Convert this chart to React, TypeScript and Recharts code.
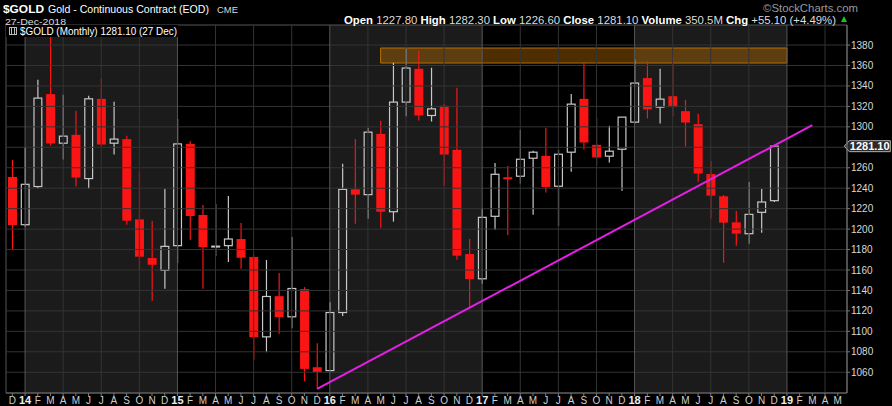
import React from 'react';
import { ComposedChart, Bar, XAxis, YAxis, ReferenceArea, ReferenceLine } from 'recharts';

// Months: index 0 = Dec 2013 ... index 65 = May 2019
const monthLabels = [
  'D',
  '14', 'F', 'M', 'A', 'M', 'J', 'J', 'A', 'S', 'O', 'N', 'D',
  '15', 'F', 'M', 'A', 'M', 'J', 'J', 'A', 'S', 'O', 'N', 'D',
  '16', 'F', 'M', 'A', 'M', 'J', 'J', 'A', 'S', 'O', 'N', 'D',
  '17', 'F', 'M', 'A', 'M', 'J', 'J', 'A', 'S', 'O', 'N', 'D',
  '18', 'F', 'M', 'A', 'M', 'J', 'J', 'A', 'S', 'O', 'N', 'D',
  '19', 'F', 'M', 'A', 'M',
];
const monthIndex = monthLabels.map((_, i) => i);

// Monthly OHLC, Dec 2013 .. Dec 2018
const opens = [
  1251.0,
  1204.3, 1241.6, 1332.0, 1284.0, 1292.2, 1249.4, 1327.4, 1284.0, 1288.0, 1209.5, 1171.7, 1159.6,
  1183.8, 1283.3, 1213.8, 1182.5, 1183.8, 1190.3, 1172.7, 1094.6, 1134.4, 1114.2, 1141.3, 1064.9,
  1061.6, 1118.4, 1238.9, 1233.7, 1293.1, 1217.0, 1324.2, 1356.8, 1311.1, 1320.6, 1277.5, 1175.6,
  1151.4, 1212.5, 1250.7, 1251.7, 1269.3, 1271.6, 1241.9, 1275.2, 1327.4, 1282.4, 1271.3, 1278.1,
  1304.6, 1347.7, 1319.3, 1330.0, 1315.3, 1302.6, 1253.9, 1232.1, 1206.6, 1195.5, 1216.4, 1227.8,
];
const highs = [
  1267.7,
  1279.4, 1346.0, 1388.4, 1331.3, 1315.7, 1330.3, 1347.0, 1324.5, 1291.2, 1255.9, 1207.9, 1239.3,
  1307.8, 1286.0, 1223.6, 1224.6, 1232.4, 1206.0, 1174.3, 1169.7, 1157.0, 1192.2, 1143.3, 1088.4,
  1128.4, 1263.8, 1288.2, 1299.0, 1305.9, 1362.7, 1376.7, 1374.4, 1357.8, 1322.5, 1338.2, 1190.3,
  1220.3, 1264.7, 1261.8, 1297.1, 1276.5, 1299.0, 1277.5, 1332.0, 1362.4, 1308.8, 1301.0, 1309.5,
  1366.0, 1364.3, 1356.8, 1369.6, 1326.4, 1312.7, 1266.7, 1233.4, 1217.7, 1246.1, 1239.3, 1282.3,
];
const lows = [
  1180.0,
  1202.4, 1239.6, 1281.7, 1268.0, 1241.6, 1239.6, 1280.7, 1273.0, 1204.3, 1160.2, 1129.9, 1141.6,
  1166.8, 1189.6, 1141.6, 1173.6, 1167.8, 1161.2, 1072.1, 1079.6, 1097.6, 1103.0, 1051.2, 1044.0,
  1061.2, 1114.9, 1205.3, 1210.2, 1201.3, 1207.3, 1310.4, 1306.2, 1305.2, 1242.5, 1170.0, 1122.4,
  1146.5, 1199.4, 1194.2, 1244.5, 1214.1, 1235.7, 1202.9, 1256.2, 1277.8, 1262.1, 1265.1, 1237.6,
  1303.5, 1308.2, 1303.3, 1310.1, 1280.7, 1246.4, 1210.2, 1167.1, 1183.8, 1185.7, 1196.5, 1226.6,
];
const closes = [
  1204.0,
  1243.8, 1328.1, 1283.7, 1290.9, 1250.4, 1327.4, 1282.7, 1288.0, 1208.2, 1173.0, 1165.1, 1183.1,
  1283.3, 1212.8, 1182.4, 1183.3, 1190.3, 1172.0, 1094.3, 1134.1, 1113.9, 1141.9, 1063.3, 1060.3,
  1118.4, 1238.9, 1233.7, 1294.8, 1217.0, 1324.2, 1357.5, 1311.1, 1317.6, 1272.9, 1174.0, 1151.1,
  1211.5, 1253.6, 1248.7, 1268.3, 1275.2, 1241.2, 1273.2, 1322.2, 1284.7, 1270.0, 1276.2, 1309.5,
  1342.8, 1317.0, 1327.1, 1319.3, 1304.2, 1254.3, 1232.7, 1206.3, 1195.5, 1214.4, 1226.5, 1281.1,
];

const gridPrices = [1060, 1080, 1100, 1120, 1140, 1160, 1180, 1200, 1220, 1240, 1260, 1280, 1300, 1320, 1340, 1360, 1380];
// 1280 label is hidden behind the last-price tag in the reference
const axisLabelPrices = [1060, 1080, 1100, 1120, 1140, 1160, 1180, 1200, 1220, 1240, 1260, 1300, 1320, 1340, 1360, 1380];
const yearStarts = [1, 13, 25, 37, 49, 61];
const shadedYears = [[1, 13], [25, 37], [49, 61]];
const quarterLines = [4, 7, 10, 16, 19, 22, 28, 31, 34, 40, 43, 46, 52, 55, 58, 64];
const trendLine = [{ x: 24, y: 1043.7 }, { x: 63, y: 1301.6 }];
const resistanceZone = { x1: 29, x2: 61, y1: 1362.4, y2: 1377.1 };
const lastClose = 1281.1;
const xDomain = [-0.5, 65.73];
const yDomain = [1039.7, 1399.6];

const data = opens.map((o, i) => ({ i, o, h: highs[i], l: lows[i], c: closes[i], range: [lows[i], highs[i]] }));

const FONT = '"Liberation Sans", Arial, sans-serif';
const UP = '#c8c8c8';
const DOWN = '#fa1414';

const Candle = (props: any) => {
  const { x, y, width, height, payload } = props;
  if (!payload) return null;
  const { o, h, l, c } = payload;
  const ratio = h - l === 0 ? 0 : height / (h - l);
  const py = (v: number) => y + (h - v) * ratio;
  const cx = x + width / 2;
  const top = py(Math.max(o, c));
  const bot = py(Math.min(o, c));
  if (c >= o) {
    return (
      <g>
        <line x1={cx} x2={cx} y1={py(h)} y2={top} stroke={UP} strokeWidth={1.2} />
        <line x1={cx} x2={cx} y1={bot} y2={py(l)} stroke={UP} strokeWidth={1.2} />
        <rect x={x + 0.6} y={top} width={width - 1.2} height={Math.max(bot - top, 0.6)} fill="none" stroke={UP} strokeWidth={1.2} />
      </g>
    );
  }
  return (
    <g>
      <line x1={cx} x2={cx} y1={py(h)} y2={py(l)} stroke={DOWN} strokeWidth={1.2} />
      <rect x={x} y={top} width={width} height={Math.max(bot - top, 1.5)} fill={DOWN} />
    </g>
  );
};

const MonthTick = (props: any) => {
  const { x, payload } = props;
  const label = monthLabels[payload.value];
  if (label === undefined) return null;
  const isYear = /\d/.test(label);
  return (
    <text x={x} y={404} textAnchor="middle" fontFamily={FONT} fontSize={isYear ? 11 : 10}
      fontWeight={isYear ? 'bold' : 'normal'} fill={isYear ? '#eeeeee' : '#cfcfcf'}>
      {label}
    </text>
  );
};

const PriceTag = (props: any) => {
  const vb = props.viewBox || {};
  const right = (vb.x || 0) + (vb.width || 0);
  const yc = vb.y || 0;
  const x0 = right - 2.7;
  const pts = `${x0},${yc} ${x0 + 5},${yc - 5.5} ${x0 + 46},${yc - 5.5} ${x0 + 46},${yc + 5.5} ${x0 + 5},${yc + 5.5}`;
  return (
    <g>
      <polygon points={pts} fill="#2b2b2b" stroke="#b0b0b0" strokeWidth={1} />
      <text x={x0 + 5.5} y={yc + 4} fontFamily={FONT} fontSize={11} fontWeight="bold" fill="#ffffff">
        {lastClose.toFixed(2)}
      </text>
    </g>
  );
};

export default function App() {
  return (
    <div style={{ position: 'absolute', left: 0, top: 0, width: 892, height: 406, background: '#000' }}>
      <ComposedChart width={892} height={406} data={data} margin={{ top: 25, right: 0, bottom: 0, left: 6 }}>
        {shadedYears.map(([a, b]) => (
          <ReferenceArea key={'s' + a} x1={a} x2={b} y1={yDomain[0]} y2={yDomain[1]} fill="#1b1b1b" fillOpacity={1} stroke="none" ifOverflow="visible" />
        ))}
        {gridPrices.map((p) => (
          <ReferenceLine key={'h' + p} y={p} stroke="#343434" strokeWidth={1} />
        ))}
        {quarterLines.map((q) => (
          <ReferenceLine key={'q' + q} x={q} stroke="#343434" strokeWidth={1} />
        ))}
        {yearStarts.map((q) => (
          <ReferenceLine key={'y' + q} x={q} stroke="#565656" strokeWidth={1} />
        ))}
        <ReferenceArea x1={xDomain[0]} x2={xDomain[1]} y1={yDomain[0]} y2={yDomain[1]} fill="none" stroke="#555" strokeWidth={1} ifOverflow="visible" />
        <XAxis type="number" dataKey="i" domain={xDomain} allowDataOverflow ticks={monthIndex} interval={0}
          tick={<MonthTick />} tickLine={{ stroke: '#777' }} tickSize={3} axisLine={{ stroke: '#666' }} height={13} />
        <YAxis orientation="right" domain={yDomain} allowDataOverflow ticks={axisLabelPrices} interval={0} width={45}
          tick={{ fill: '#d8d8d8', fontSize: 10, fontFamily: FONT }} tickLine={{ stroke: '#777' }} tickSize={3} tickMargin={1}
          axisLine={{ stroke: '#777' }} />
        <Bar dataKey="range" barSize={9} shape={<Candle />} isAnimationActive={false} />
        <ReferenceArea x1={resistanceZone.x1} x2={resistanceZone.x2} y1={resistanceZone.y1} y2={resistanceZone.y2}
          fill="#cc7a00" fillOpacity={0.38} stroke="#b86e00" strokeWidth={1} ifOverflow="visible" />
        <ReferenceLine segment={trendLine} stroke="#e61ee6" strokeWidth={2} ifOverflow="visible" />
        <ReferenceLine y={lastClose} stroke="none" label={<PriceTag />} ifOverflow="visible" />
      </ComposedChart>
      <svg width={892} height={406} style={{ position: 'absolute', left: 0, top: 0, pointerEvents: 'none' }}>
        <text x={3} y={12.5} fontFamily={FONT} fontSize={11.5} fontWeight="bold" fill="#fff" textLength={41} lengthAdjust="spacingAndGlyphs">$GOLD</text>
        <text x={48} y={12.5} fontFamily={FONT} fontSize={10.5} fill="#fff" textLength={161} lengthAdjust="spacingAndGlyphs">Gold - Continuous Contract (EOD)</text>
        <text x={217} y={12.5} fontFamily={FONT} fontSize={8.5} fill="#ddd" textLength={21} lengthAdjust="spacingAndGlyphs">CME</text>
        <text x={5} y={24.5} fontFamily={FONT} fontSize={9.5} fill="#ddd" textLength={61} lengthAdjust="spacingAndGlyphs">27-Dec-2018</text>
        <text x={763} y={12} fontFamily={FONT} fontSize={11} fill="#9a9a9a" textLength={95} lengthAdjust="spacingAndGlyphs">©StockCharts.com</text>
        <text x={344} y={24} fontFamily={FONT} fontSize={11} fill="#ddd" textLength={492} lengthAdjust="spacingAndGlyphs">
          <tspan fontWeight="bold" fill="#fff">Open</tspan> 1227.80 <tspan fontWeight="bold" fill="#fff">High</tspan> 1282.30 <tspan fontWeight="bold" fill="#fff">Low</tspan> 1226.60 <tspan fontWeight="bold" fill="#fff">Close</tspan> 1281.10 <tspan fontWeight="bold" fill="#fff">Volume</tspan> 350.5M <tspan fontWeight="bold" fill="#fff">Chg</tspan> +55.10 (+4.49%)
        </text>
        <polygon points="841,22 847,22 844,16" fill="#1fbf1f" />
        <rect x={6} y={25} width={172} height={12} fill="#000" />
        <rect x={9.5} y={27.5} width={7} height={7} fill="none" stroke="#bbb" strokeWidth={1} />
        <line x1={11.5} x2={11.5} y1={28} y2={34} stroke="#bbb" strokeWidth={1} />
        <line x1={14.5} x2={14.5} y1={28} y2={34} stroke="#bbb" strokeWidth={1} />
        <text x={20} y={35} fontFamily={FONT} fontSize={10.5} fill="#fff" textLength={157} lengthAdjust="spacingAndGlyphs">$GOLD (Monthly) 1281.10 (27 Dec)</text>
      </svg>
    </div>
  );
}
